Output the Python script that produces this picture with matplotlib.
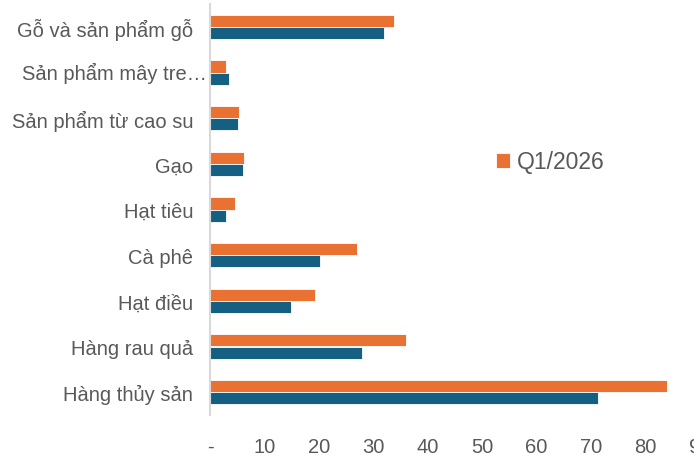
import matplotlib

matplotlib.use("Agg")
import matplotlib.pyplot as plt
import numpy as np

# Data
categories = [
    "Gỗ và sản phẩm gỗ",
    "Sản phẩm mây tre…",
    "Sản phẩm từ cao su",
    "Gạo",
    "Hạt tiêu",
    "Cà phê",
    "Hạt điều",
    "Hàng rau quả",
    "Hàng thủy sản",
]
q1_2025 = [31.9, 3.5, 5.1, 6.1, 2.9, 20.2, 14.9, 27.9, 71.2]
q1_2026 = [33.8, 2.9, 5.3, 6.2, 4.6, 27.0, 19.3, 36.0, 83.9]
x_ticks = [0, 10, 20, 30, 40, 50, 60, 70, 80, 90]
x_tick_labels = ["-", "10", "20", "30", "40", "50", "60", "70", "80", "90"]

BLUE = "#156082"
ORANGE = "#E97132"
TEXT = "#595959"

plt.rcParams["font.family"] = ["Liberation Sans", "DejaVu Sans"]

fig = plt.figure(figsize=(6.94, 4.56), dpi=100)
ax = fig.add_axes([210 / 694, 40 / 456, 490 / 694, 411 / 456])

y = np.arange(len(categories))
h = 0.265
ax.barh(y - h / 2, q1_2026, height=h, color=ORANGE, edgecolor="white",
        linewidth=0.6, label="Q1/2026")
ax.barh(y + h / 2, q1_2025, height=h, color=BLUE, edgecolor="white",
        linewidth=0.6, label="Q1/2025")

ax.set_ylim(len(categories) - 0.5, -0.5)
ax.set_xlim(0, 90)
ax.set_yticks(y)
# the truncated label sits closer to the axis, as in Excel
labels_shown = [c if i != 1 else "" for i, c in enumerate(categories)]
ax.set_yticklabels(labels_shown, fontsize=14.5, color=TEXT)
ax.text(-0.006, y[1], categories[1], transform=ax.get_yaxis_transform(),
        ha="right", va="center", fontsize=14.5, color=TEXT)
ax.set_xticks(x_ticks)
ax.set_xticklabels(x_tick_labels, fontsize=14.5, color=TEXT)
ax.tick_params(axis="both", length=0)
ax.tick_params(axis="y", pad=12)
ax.tick_params(axis="x", pad=16)

for side in ("top", "right", "bottom"):
    ax.spines[side].set_visible(False)
ax.spines["left"].set_color("#d9d9d9")
ax.spines["left"].set_linewidth(1.5)

handles, labels = ax.get_legend_handles_labels()
fig.legend(handles[:1], labels[:1], loc="center left",
           bbox_to_anchor=(496 / 694, 1 - 163 / 456), frameon=False,
           fontsize=16.5, labelcolor=TEXT, handlelength=0.6, handleheight=0.6,
           handletextpad=0.3, borderaxespad=0, borderpad=0)

fig.savefig("out.png", dpi=100)
